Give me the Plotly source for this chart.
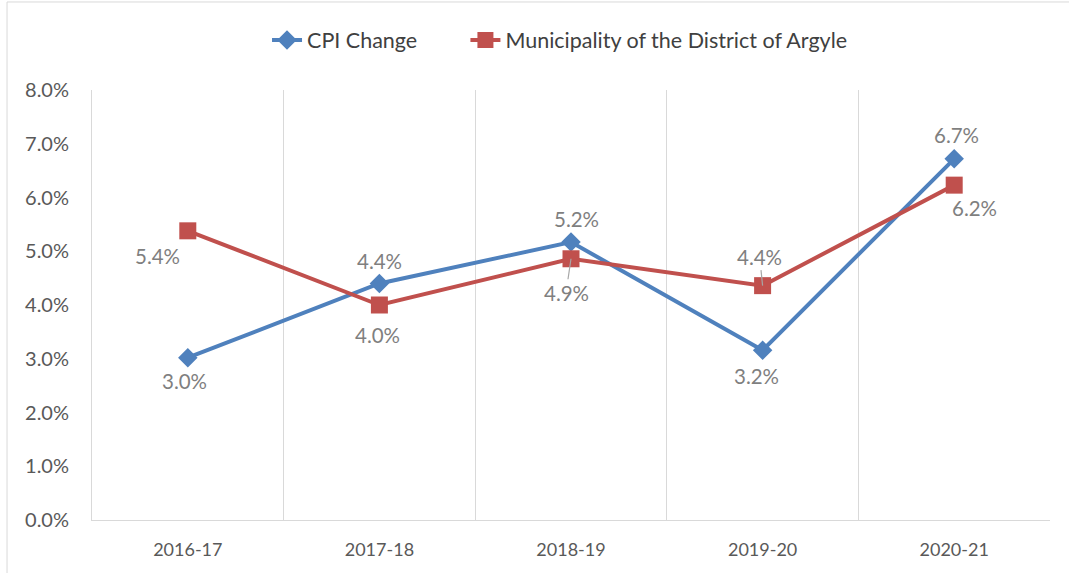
import plotly.graph_objects as go

# Fiscal years shown on the category axis
years = ["2016-17", "2017-18", "2018-19", "2019-20", "2020-21"]

# Annual change, in percent
cpi_change = [3.02, 4.40, 5.17, 3.16, 6.72]
argyle_change = [5.38, 4.00, 4.86, 4.36, 6.23]

# Y-axis ticks, in percent
y_ticks = [0, 1, 2, 3, 4, 5, 6, 7, 8]

x_pos = list(range(len(years)))

BLUE = "#4F81BD"
RED = "#C0504D"
GREY_TEXT = "#7F7F7F"
GRID = "#D9D9D9"
FONT = "Lato, 'Open Sans', sans-serif"

fig = go.Figure()

fig.add_trace(go.Scatter(
    x=x_pos, y=cpi_change, name="CPI Change",
    mode="lines+markers",
    line=dict(color=BLUE, width=4),
    marker=dict(symbol="diamond", size=15, color=BLUE),
    legend="legend",
))

fig.add_trace(go.Scatter(
    x=x_pos, y=argyle_change, name="Municipality of the District of Argyle",
    mode="lines+markers",
    line=dict(color=RED, width=4),
    marker=dict(symbol="square", size=17, color=RED),
    legend="legend2",
))

# Data label offsets (px) around each point: (dx, dy), dy positive = up
cpi_offsets = [(-3, -23), (0, 23), (5, 23), (-6, -26), (2, 24)]
argyle_offsets = [(-30, -25), (-2, -30), (-5, -34), (-3, 29), (20, -23)]
argyle_leader = [False, False, True, True, False]

label_font = dict(color=GREY_TEXT, size=20.5, family=FONT)

for xi, yi, (dx, dy) in zip(x_pos, cpi_change, cpi_offsets):
    fig.add_annotation(x=xi, y=yi, text=f"{yi:.1f}%", showarrow=False,
                       xshift=dx, yshift=dy, font=label_font)

for xi, yi, (dx, dy), lead in zip(x_pos, argyle_change, argyle_offsets, argyle_leader):
    if lead:
        # short grey leader line from label to point
        fig.add_annotation(x=xi, y=yi, text=f"{yi:.1f}%", showarrow=True,
                           arrowhead=0, arrowwidth=1.2, arrowcolor="#A6A6A6",
                           ax=dx, ay=-dy, standoff=0, font=label_font)
    else:
        fig.add_annotation(x=xi, y=yi, text=f"{yi:.1f}%", showarrow=False,
                           xshift=dx, yshift=dy, font=label_font)

# Light border around the whole chart area
fig.add_shape(type="rect", xref="paper", yref="paper",
              x0=-0.0887, x1=1.2, y0=-0.3, y1=1.2047,
              line=dict(color=GRID, width=1), fillcolor="rgba(0,0,0,0)", layer="below")

legend_font = dict(size=21.5, color="#404040", family=FONT)

fig.update_layout(
    width=1069, height=573,
    margin=dict(l=92, r=19, t=90, b=53),
    paper_bgcolor="white", plot_bgcolor="white",
    font=dict(family=FONT, color="#595959"),
    showlegend=True,
    legend=dict(orientation="h", x=0.1827, xanchor="left", y=1.116, yanchor="middle",
                font=legend_font, bgcolor="rgba(0,0,0,0)"),
    legend2=dict(orientation="h", x=0.3898, xanchor="left", y=1.116, yanchor="middle",
                 font=legend_font, bgcolor="rgba(0,0,0,0)"),
    xaxis=dict(
        range=[-0.5, 4.5],
        tickmode="array", tickvals=x_pos, ticktext=years,
        showgrid=False, zeroline=False,
        showline=True, linecolor=GRID, linewidth=1,
        ticks="", ticklabelstandoff=13,
        tickfont=dict(size=18, color="#595959", family=FONT),
        minor=dict(tickmode="array", tickvals=[0.5, 1.5, 2.5, 3.5, 4.5],
                   showgrid=True, gridcolor=GRID, gridwidth=1, ticks=""),
        fixedrange=True,
    ),
    yaxis=dict(
        range=[0, 8],
        tickmode="array", tickvals=y_ticks,
        ticktext=[f"{v:.1f}%" for v in y_ticks],
        showgrid=False, zeroline=False,
        showline=True, linecolor=GRID, linewidth=1,
        ticks="", ticklabelstandoff=18,
        tickfont=dict(size=20, color="#595959", family=FONT),
        fixedrange=True,
    ),
)

fig.write_html("out.html")
